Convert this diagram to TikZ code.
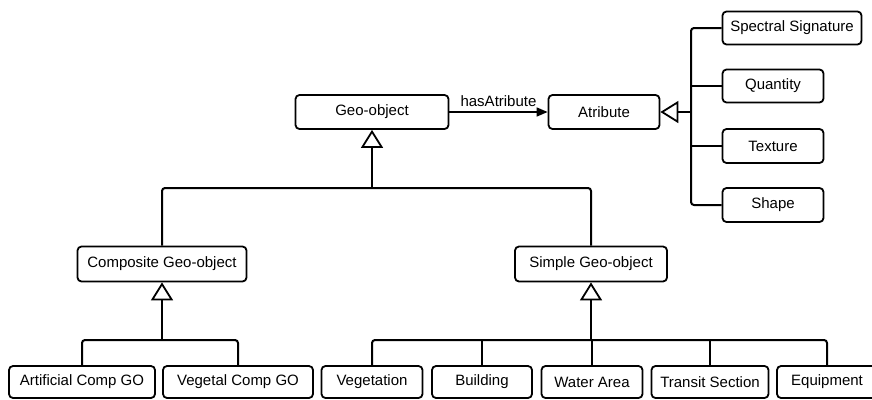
\documentclass[tikz,border=0pt]{standalone}
\usepackage{fontspec}
\setmainfont{Liberation Sans}
\usetikzlibrary{arrows.meta}
\begin{document}
\begin{tikzpicture}[x=1pt,y=-1pt,
  box/.style={draw, line width=1.8pt, rounded corners=4pt, inner sep=0pt,
    font=\fontsize{15}{18}\selectfont, anchor=center},
  conn/.style={line width=2pt, rounded corners=3pt},
  gen/.style={line width=2pt, -{Triangle[open, length=18pt, width=22pt, line width=1.8pt]}},
  assoc/.style={line width=1.6pt, -{Triangle[length=11pt, width=9pt]}},
  lbl/.style={font=\fontsize{15}{18}\selectfont}]
\clip (0,0) rectangle (872,399);
\fill[white] (0,0) rectangle (872,399);
% nodes
\node[box, minimum width=153pt, minimum height=34pt] (geo) at (372,112) {Geo-object};
\node[box, minimum width=111pt, minimum height=34pt] (atr) at (604,112) {Atribute};
\node[box, minimum width=139pt, minimum height=33pt] (spec) at (792,28) {Spectral Signature};
\node[box, minimum width=101pt, minimum height=33pt] (quan) at (773,86) {Quantity};
\node[box, minimum width=101pt, minimum height=34pt] (textu) at (773,146) {Texture};
\node[box, minimum width=101pt, minimum height=34pt] (shp) at (773,205) {Shape};
\node[box, minimum width=169pt, minimum height=35pt] (comp) at (162,264) {Composite Geo-object};
\node[box, minimum width=152pt, minimum height=35pt] (simp) at (591,264) {Simple Geo-object};
\node[box, minimum width=146pt, minimum height=32pt] (art) at (82,382) {Artificial Comp GO};
\node[box, minimum width=150pt, minimum height=32pt] (vegc) at (238,382) {Vegetal Comp GO};
\node[box, minimum width=101pt, minimum height=32pt] (vegn) at (372,382) {Vegetation};
\node[box, minimum width=100pt, minimum height=32pt] (bld) at (482,382) {Building};
\node[box, minimum width=101pt, minimum height=32pt] (wat) at (592,382) {Water Area};
\node[box, minimum width=117pt, minimum height=32pt] (tra) at (710,382) {Transit Section};
\node[box, minimum width=100pt, minimum height=32pt] (equ) at (827,382) {Equipment};
% junctions
\coordinate (j1) at (372,188);
\coordinate (jA) at (691,112);
\coordinate (jC) at (162,340);
\coordinate (jS) at (591,340);
% association
\draw[assoc] (geo.east) -- node[lbl, above=1pt] {hasAtribute} (atr.west);
% attribute tree
\draw[conn] (spec.west) -| (jA) |- (shp.west);
\draw[conn] (quan.west) -- (quan.west -| jA);
\draw[conn] (textu.west) -- (textu.west -| jA);
\draw[gen] (jA) -- (atr.east);
% geo-object tree
\draw[conn] (comp.north) |- (j1) -| (simp.north);
\draw[gen] (j1) -- (geo.south);
% composite tree
\draw[conn] (art.north) |- (jC) -| (vegc.north);
\draw[gen] (jC) -- (comp.south);
% simple tree
\draw[conn] (vegn.north) |- (jS) -| (equ.north);
\draw[conn] (bld.north) -- (bld.north |- jS);
\draw[conn] (wat.north) -- (wat.north |- jS);
\draw[conn] (tra.north) -- (tra.north |- jS);
\draw[gen] (jS) -- (simp.south);
\end{tikzpicture}
\end{document}
